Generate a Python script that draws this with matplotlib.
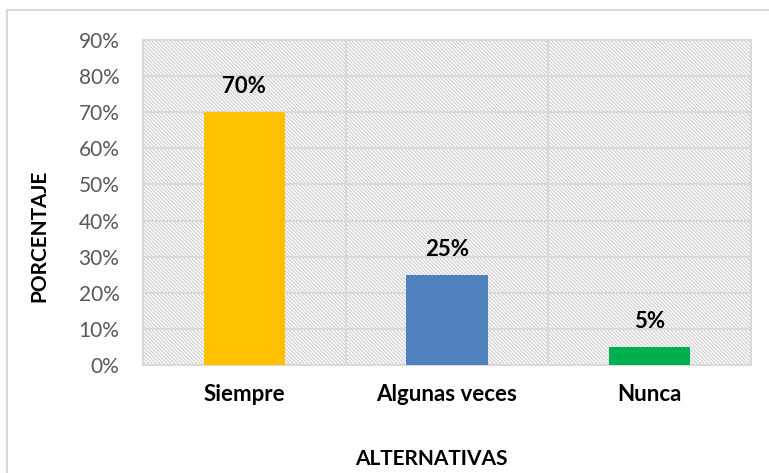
import matplotlib
matplotlib.use("Agg")
import matplotlib.pyplot as plt
from matplotlib.patches import Rectangle
from matplotlib.lines import Line2D
from matplotlib.ticker import MultipleLocator, FuncFormatter

categories = ["Siempre", "Algunas veces", "Nunca"]
values = [70, 25, 5]
colors = ["#FFC000", "#4F81BD", "#00B050"]
labels = ["70%", "25%", "5%"]

plt.rcParams['font.family'] = ['Lato', 'DejaVu Sans']
plt.rcParams['hatch.linewidth'] = 1.0
plt.rcParams['hatch.color'] = '#d4d4d4'

fig = plt.figure(figsize=(7.69, 4.73), dpi=100)
ax = fig.add_axes([143/769, 1-365/473, (751-143)/769, (365-40)/473])

bg = Rectangle((0, 0), 1, 1, transform=ax.transAxes, facecolor='white',
               edgecolor='#d4d4d4', hatch='\\' * 9, linewidth=0, zorder=0)
ax.add_patch(bg)

x = list(range(len(categories)))
ax.bar(x, values, width=0.4, color=colors, zorder=3)
for xi, v, lab in zip(x, values, labels):
    ax.text(xi, v + 7, lab, ha='center', va='center', fontsize=16,
            fontweight='bold', color='black', zorder=4)

ax.set_xlim(-0.5, 2.5)
ax.set_ylim(0, 90)
ax.yaxis.set_major_locator(MultipleLocator(10))
ax.yaxis.set_major_formatter(FuncFormatter(lambda v, p: f"{int(v)}%"))
ax.set_xticks(x)
ax.set_xticklabels(categories, fontsize=16, fontweight='bold', color='black')
ax.tick_params(axis='y', labelsize=15, colors='#595959', length=0, pad=17)
ax.tick_params(axis='x', length=0, pad=14)

for yv in range(10, 90, 10):
    ax.axhline(yv, color='#d9d9d9', linewidth=1.5, zorder=1)
for xv in [0.5, 1.5]:
    ax.axvline(xv, color='#d9d9d9', linewidth=1.5, zorder=1)
for s in ax.spines.values():
    s.set_color('#d9d9d9')
    s.set_linewidth(1.5)
    s.set_zorder(2)

ax.set_ylabel("PORCENTAJE", fontsize=15, fontweight='bold')
ax.yaxis.set_label_coords(49/769, 237/473, transform=fig.transFigure)
ax.set_xlabel("ALTERNATIVAS", fontsize=15, fontweight='bold')
ax.xaxis.set_label_coords(431/769, 1 - 449/473, transform=fig.transFigure)

# outer chart border
fig.add_artist(Line2D([7/769, 7/769], [0, 1-10/473], transform=fig.transFigure,
                      color='#d9d9d9', linewidth=1.5))
fig.add_artist(Line2D([7/769, 1], [1-10/473, 1-10/473], transform=fig.transFigure,
                      color='#d9d9d9', linewidth=1.5))

fig.savefig("out.png", dpi=100)
